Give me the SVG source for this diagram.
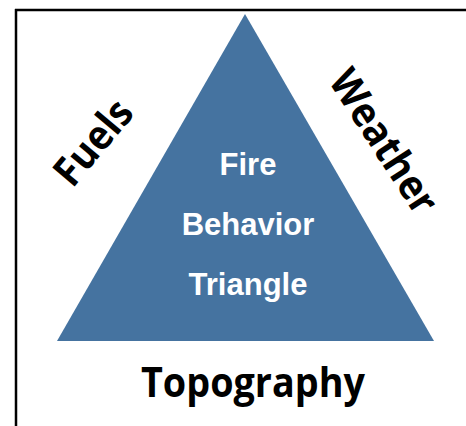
<svg xmlns="http://www.w3.org/2000/svg" width="466" height="426" viewBox="0 0 466 426">
<style>
.frame{stroke:#000;stroke-width:2.5;fill:none}
.side{font-family:"Open Sans","Liberation Sans",sans-serif;font-weight:bold;font-size:41px;fill:#000;text-anchor:middle}
.inner{font-family:"Liberation Sans",Arial,sans-serif;font-weight:bold;font-size:31px;fill:#fff;text-anchor:middle}
</style>
<rect width="466" height="426" fill="#fff"/>
<g id="frame">
<line class="frame" x1="15" y1="10" x2="466" y2="10"/>
<line class="frame" x1="16" y1="9" x2="16" y2="426"/>
</g>
<g id="triangle">
<polygon points="245,14 57,341 434,341" fill="#4573A0"/>
<text class="inner" x="248" y="175">Fire</text>
<text class="inner" x="248" y="235">Behavior</text>
<text class="inner" x="248" y="295">Triangle</text>
</g>
<g id="fuels">
<text class="side" transform="translate(94,143) rotate(-50)" x="0" y="13" textLength="98" lengthAdjust="spacingAndGlyphs">Fuels</text>
</g>
<g id="weather">
<text class="side" transform="translate(383,142) rotate(57)" x="0" y="13" textLength="163" lengthAdjust="spacingAndGlyphs">Weather</text>
</g>
<g id="topography">
<text class="side" x="253" y="397" textLength="224" lengthAdjust="spacingAndGlyphs">Topography</text>
</g>
<g id="connectors"/>
</svg>
